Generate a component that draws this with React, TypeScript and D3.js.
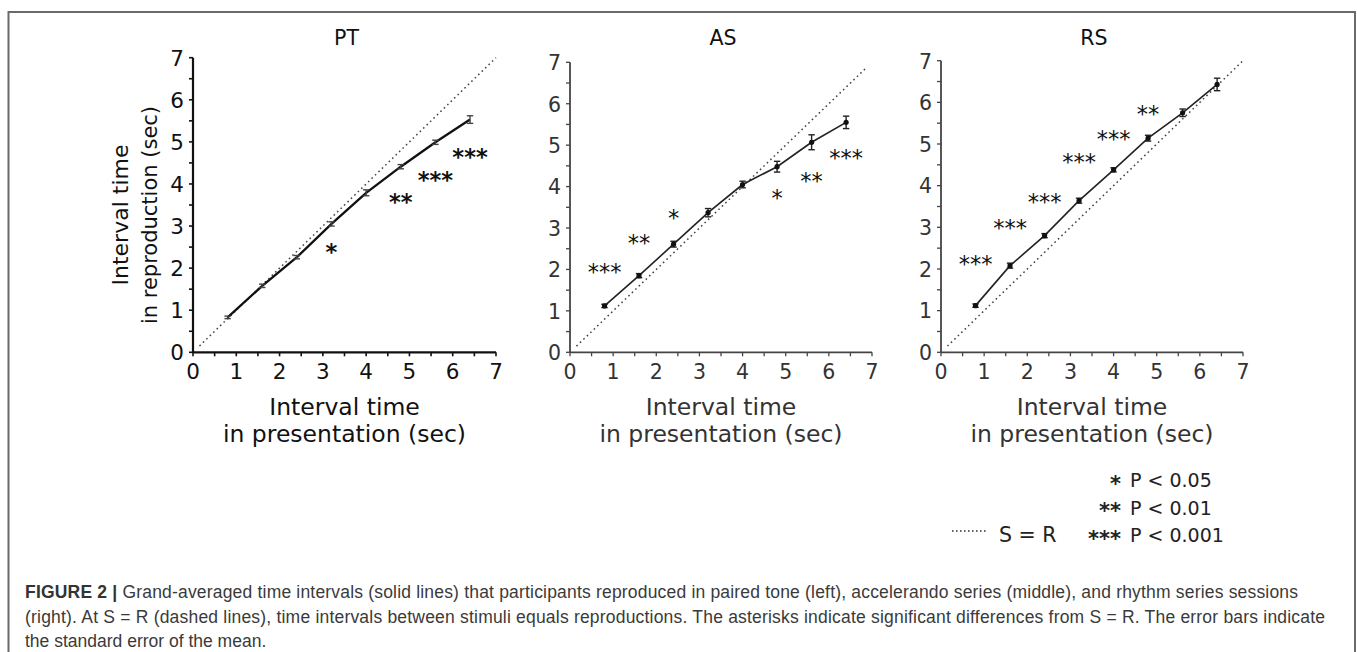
import React from "react";
import * as d3 from "d3";

// ---- data ----
const xPresentation = [0.8, 1.6, 2.4, 3.2, 4.0, 4.8, 5.6, 6.4];

const ptMean = [0.83, 1.58, 2.26, 3.05, 3.79, 4.41, 4.99, 5.53];
const ptSem = [0.03, 0.04, 0.04, 0.05, 0.07, 0.05, 0.05, 0.09];
const ptStars = ["", "", "", "*", "", "**", "***", "***"];
const ptStarY = [0, 0, 0, 2.51, 0, 3.7, 4.21, 4.76];

const asMean = [1.12, 1.85, 2.61, 3.37, 4.05, 4.48, 5.07, 5.55];
const asSem = [0.04, 0.05, 0.07, 0.1, 0.08, 0.13, 0.18, 0.15];
const asStars = ["***", "**", "*", "", "", "*", "**", "***"];
const asStarY = [2.07, 2.75, 3.37, 0, 0, 3.84, 4.26, 4.81];

const rsMean = [1.12, 2.08, 2.8, 3.64, 4.38, 5.14, 5.75, 6.43];
const rsSem = [0.04, 0.06, 0.05, 0.06, 0.05, 0.07, 0.09, 0.15];
const rsStars = ["***", "***", "***", "***", "***", "**", "", ""];
const rsStarY = [2.25, 3.11, 3.73, 4.69, 5.23, 5.85, 0, 0];

const tickLabels = [0, 1, 2, 3, 4, 5, 6, 7];
const tickMarks = [0, 0.5, 1, 1.5, 2, 2.5, 3, 3.5, 4, 4.5, 5, 5.5, 6, 6.5, 7];
const identityLine: [number, number][] = [[0.15, 0.15], [7, 7]];

const legendStars = ["*", "**", "***"];
const legendText = ["P < 0.05", "P < 0.01", "P < 0.001"];

const captionLines = [
  "Grand-averaged time intervals (solid lines) that participants reproduced in paired tone (left), accelerando series (middle), and rhythm series sessions",
  "(right). At S = R (dashed lines), time intervals between stimuli equals reproductions. The asterisks indicate significant differences from S = R. The error bars indicate",
  "the standard error of the mean.",
];

const FONT = "'DejaVu Sans', Verdana, sans-serif";
const CAP_FONT = "'Liberation Sans', Arial, Helvetica, sans-serif";

type PanelProps = {
  title: string;
  mean: number[];
  sem: number[];
  stars: string[];
  starY: number[];
  x0: number;
  x1: number;
  y0: number;
  y1: number;
  heavy: boolean;
  yLabel: boolean;
  idEnd: number;
};

function Panel(p: PanelProps) {
  const xs = d3.scaleLinear().domain([0, 7]).range([p.x0, p.x1]);
  const ys = d3.scaleLinear().domain([0, 7]).range([p.y0, p.y1]);
  const axisColor = p.heavy ? "#111" : "#444";
  const axisW = p.heavy ? 2.2 : 1.8;
  const textColor = p.heavy ? "#111" : "#333";
  const lineColor = p.heavy ? "#111" : "#222";
  const lineW = p.heavy ? 2.3 : 1.6;
  const tickFs = p.heavy ? 21.5 : 20.5;
  const pts: [number, number][] = xPresentation.map((x, i) => [x, p.mean[i]]);
  const line = d3
    .line<[number, number]>()
    .x((d) => xs(d[0]))
    .y((d) => ys(d[1]));
  const idPts: [number, number][] = [identityLine[0], [p.idEnd, p.idEnd]];
  const cx = (p.x0 + p.x1) / 2;
  return (
    <g>
      <text x={cx + 2} y={45} textAnchor="middle" fontFamily={FONT} fontSize={20.5} fill="#111">
        {p.title}
      </text>
      {/* identity S = R */}
      <path d={line(idPts) || ""} fill="none" stroke="#444" strokeWidth={1.5} strokeDasharray="1.6,3.2" />
      {/* axes */}
      <line x1={xs(0)} x2={xs(7)} y1={ys(0)} y2={ys(0)} stroke={axisColor} strokeWidth={axisW} />
      <line x1={xs(0)} x2={xs(0)} y1={ys(0)} y2={ys(7)} stroke={axisColor} strokeWidth={axisW} />
      {tickMarks.map((t) => (
        <g key={"t" + t}>
          <line x1={xs(t)} x2={xs(t)} y1={ys(0)} y2={ys(0) + 4} stroke={axisColor} strokeWidth={p.heavy ? 1.6 : 1.3} />
          <line x1={xs(0) - 4} x2={xs(0)} y1={ys(t)} y2={ys(t)} stroke={axisColor} strokeWidth={p.heavy ? 1.6 : 1.3} />
        </g>
      ))}
      {tickLabels.map((t) => (
        <g key={"l" + t}>
          <text x={xs(t)} y={ys(0) + 26.5} textAnchor="middle" fontFamily={FONT} fontSize={tickFs} fill={textColor}>
            {t}
          </text>
          <text x={xs(0) - 9} y={ys(t) + 7.8} textAnchor="end" fontFamily={FONT} fontSize={tickFs} fill={textColor}>
            {t}
          </text>
        </g>
      ))}
      {/* x label */}
      <text x={cx} y={415} textAnchor="middle" fontFamily={FONT} fontSize={23.5} fill={textColor}>
        Interval time
      </text>
      <text x={cx} y={442} textAnchor="middle" fontFamily={FONT} fontSize={23.5} fill={textColor}>
        in presentation (sec)
      </text>
      {p.yLabel && (
        <g>
          <text transform={`translate(128,215) rotate(-90)`} textAnchor="middle" fontFamily={FONT} fontSize={22} fill={textColor}>
            Interval time
          </text>
          <text transform={`translate(157,215) rotate(-90)`} textAnchor="middle" fontFamily={FONT} fontSize={21} fill={textColor}>
            in reproduction (sec)
          </text>
        </g>
      )}
      {/* data line */}
      <path d={line(pts) || ""} fill="none" stroke={lineColor} strokeWidth={lineW} />
      {/* error bars */}
      {pts.map((d, i) => {
        const x = xs(d[0]);
        const lo = ys(d[1] - p.sem[i]);
        const hi = ys(d[1] + p.sem[i]);
        const ec = p.heavy ? "#444" : "#222";
        return (
          <g key={"e" + i}>
            <line x1={x} x2={x} y1={lo} y2={hi} stroke={ec} strokeWidth={1.4} />
            <line x1={x - 3.2} x2={x + 3.2} y1={lo} y2={lo} stroke={ec} strokeWidth={1.4} />
            <line x1={x - 3.2} x2={x + 3.2} y1={hi} y2={hi} stroke={ec} strokeWidth={1.4} />
            {!p.heavy && <circle cx={x} cy={ys(d[1])} r={2.6} fill="#111" />}
          </g>
        );
      })}
      {/* significance asterisks */}
      {p.stars.map((s, i) =>
        s ? (
          <text
            key={"s" + i}
            x={xs(xPresentation[i])}
            y={ys(p.starY[i]) + 13}
            textAnchor="middle"
            fontFamily={FONT}
            fontWeight={p.heavy ? "bold" : "normal"}
            fontSize={22.5}
            fill="#111"
          >
            {s}
          </text>
        ) : null
      )}
    </g>
  );
}

export default function App() {
  return (
    <svg
      width={1357}
      height={652}
      viewBox="0 0 1357 652"
      style={{ position: "absolute", left: 0, top: 0, background: "#fff" }}
    >
      <rect x={0} y={0} width={1357} height={652} fill="#fff" />
      {/* frame */}
      <path d="M8.5,662 L8.5,12 L1355,12 L1355,662" fill="none" stroke="#6a6a6a" strokeWidth={2} />
      <Panel title="PT" mean={ptMean} sem={ptSem} stars={ptStars} starY={ptStarY}
        x0={193} x1={496} y0={352.3} y1={57.7} heavy={true} yLabel={true} idEnd={7} />
      <Panel title="AS" mean={asMean} sem={asSem} stars={asStars} starY={asStarY}
        x0={570} x1={872} y0={352.3} y1={62.3} heavy={false} yLabel={false} idEnd={6.88} />
      <Panel title="RS" mean={rsMean} sem={rsSem} stars={rsStars} starY={rsStarY}
        x0={941} x1={1243} y0={352.3} y1={60.7} heavy={false} yLabel={false} idEnd={7} />
      {/* legend */}
      {legendStars.map((s, i) => (
        <g key={"lg" + i}>
          <text x={1121} y={490.5 + i * 27.5} textAnchor="end" fontFamily={FONT} fontSize={21} fontWeight="bold" fill="#222">
            {s}
          </text>
          <text x={1130} y={487 + i * 27.5} fontFamily={FONT} fontSize={19} fill="#222">
            {legendText[i]}
          </text>
        </g>
      ))}
      <line x1={952} x2={987} y1={531} y2={531} stroke="#333" strokeWidth={1.5} strokeDasharray="1.6,2.4" />
      <text x={999} y={542} fontFamily={FONT} fontSize={20.5} fill="#222">
        S = R
      </text>
      {/* caption */}
      <text x={25} y={598} fontFamily={CAP_FONT} fontSize={17.5} fill="#3a3a3a" textLength={1273} lengthAdjust="spacing">
        <tspan fontWeight="bold" fill="#333">FIGURE 2 | </tspan>
        {captionLines[0]}
      </text>
      <text x={25} y={623} fontFamily={CAP_FONT} fontSize={17.5} fill="#3a3a3a" textLength={1300} lengthAdjust="spacing">
        {captionLines[1]}
      </text>
      <text x={25} y={647} fontFamily={CAP_FONT} fontSize={17.5} fill="#3a3a3a">
        {captionLines[2]}
      </text>
    </svg>
  );
}
